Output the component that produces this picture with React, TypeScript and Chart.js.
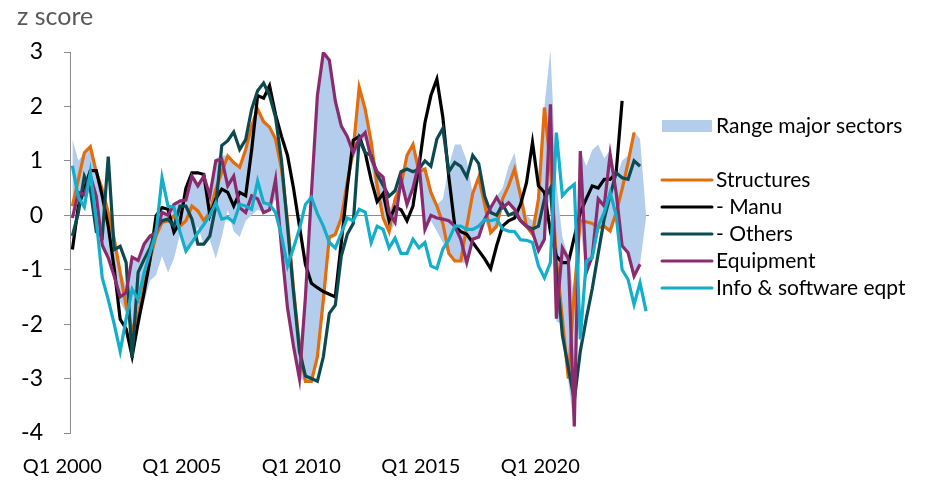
import React, { useEffect, useRef } from 'react';
import { Chart, registerables } from 'chart.js';

Chart.register(...registerables);

// Quarterly categories Q1 2000 .. Q1 2024
const startYear = 2000;
const quarterCount = 97;
const categories: string[] = Array.from({ length: quarterCount }, (_, i) => `Q${(i % 4) + 1} ${startYear + Math.floor(i / 4)}`);
const tickLabels = ['Q1 2000', 'Q1 2005', 'Q1 2010', 'Q1 2015', 'Q1 2020'];

const structures: (number | null)[] = [
  0.17, 0.66, 1.15, 1.26, 0.79, 0.48, 0.05, -0.44, -1.05, -1.67,
  -2.1, -1.85, -1.29, -0.81, -0.38, -0.13, -0.1, -0.01, -0.2, -0.1,
  0.17, 0.08, -0.1, 0.05, 0.48, 0.79, 1.09, 0.97, 0.88, 1.21,
  1.64, 1.95, 1.72, 1.62, 1.4, 0.85, -0.1, -1.35, -2.4, -3.05,
  -3.05, -2.6, -1.55, -0.4, -0.35, -0.05, 0.6, 1.2, 2.35, 1.95,
  1.35, 0.55, -0.05, -0.3, 0.3, 0.55, 1.1, 1.3, 0.8, 0.85,
  0.42, 0.17, -0.15, -0.7, -0.84, -0.84, -0.2, 0.4, 0.7, 0.2,
  -0.32, -0.2, 0.3, 0.54, 0.85, 0.36, -0.2, -0.35, 0.3, 1.98,
  0.9, -0.8, -1.9, -3.0, -1.4, -0.1, -0.12, -0.15, -0.23, -0.2,
  -0.29, 0.05, 0.48, 0.97, 1.52, null, null,
];

const manu: (number | null)[] = [
  -0.63, 0.17, 0.48, 0.82, 0.82, 0.35, -0.2, -0.98, -1.91, -2.09,
  -2.59, -1.98, -1.42, -0.81, -0.01, 0.14, 0.11, -0.31, -0.13, 0.5,
  0.78, 0.78, 0.75, 0.0, 0.3, 0.48, 0.42, 0.17, 0.42, 0.36,
  1.2, 2.2, 2.15, 2.38, 1.85, 1.45, 1.1, 0.5, -0.2, -0.9,
  -1.25, -1.33, -1.4, -1.45, -1.5, -0.5, 0.5, 1.38, 1.45, 1.15,
  0.65, 0.25, 0.4, -0.1, 0.15, 0.1, -0.1, 0.17, 0.9, 1.7,
  2.2, 2.5, 1.8, 0.7, -0.2, -0.3, -0.35, -0.5, -0.65, -0.8,
  -0.98, -0.56, -0.2, -0.1, -0.05, 0.2, 0.6, 1.34, 0.54, 0.42,
  -0.3, -0.75, -0.87, -0.87, -0.4, 0.05, 0.3, 0.54, 0.5, 0.66,
  0.66, 0.78, 2.1, null, null, null, null,
];

const others: (number | null)[] = [
  -0.38, 0.05, 0.72, 0.48, -0.3, -0.4, 1.08, -0.63, -0.57, -0.87,
  -2.62, -1.05, -0.81, -0.6, -0.25, -0.1, -0.07, -0.2, 0.17, 0.17,
  -0.07, -0.53, -0.53, -0.38, 0.17, 1.28, 1.37, 1.53, 1.21, 1.39,
  1.95, 2.29, 2.43, 2.2, 1.8, 1.0, -0.2, -1.4, -2.5, -2.95,
  -3.0, -3.05, -2.6, -1.8, -1.65, -0.75, -0.35, -0.15, 1.4, 1.15,
  1.1, 0.75, 0.55, 0.35, 0.45, 0.8, 0.85, 0.8, 0.85, 1.0,
  0.9, 1.4, 1.6, 0.8, 0.97, 0.9, 0.7, 1.1, 0.95, 0.35,
  0.05, 0.0, 0.2, 0.0, 0.05, -0.1, -0.2, -0.25, -0.2, 0.3,
  0.5, -1.0, -2.2, -2.8, -3.4, -2.5, -1.9, -1.35, -0.7, -0.07,
  0.36, 0.78, 0.69, 0.66, 1.0, 0.9, null,
];

const equipment: (number | null)[] = [
  -0.05, 0.42, 0.38, 0.73, 0.35, -0.55, -0.78, -1.12, -1.5, -1.42,
  -0.77, -0.83, -0.53, -0.38, -0.32, 0.05, 0.0, 0.2, 0.26, 0.28,
  0.72, 0.54, 0.72, 0.36, 1.0, 1.03, 0.54, 0.72, 0.14, 0.05,
  0.36, 0.3, 0.05, 0.1, 0.66, -0.6, -1.7, -2.4, -3.0, -1.5,
  0.4, 2.2, 2.99, 2.85, 2.1, 1.64, 1.45, 1.15, 1.4, 1.52,
  1.04, 0.8, 0.7, 0.05, -0.13, 0.66, 0.2, 0.5, 0.97, -0.26,
  0.0, -0.05, -0.07, -0.1, -0.2, -0.44, -0.87, -0.44, -0.4, -0.07,
  0.14, 0.33, 0.14, 0.23, 0.11, -0.1, -0.2, -0.3, -0.65, -0.44,
  2.04, -1.9, -0.6, -0.8, -3.88, 1.18, -1.05, -0.75, 0.3, 0.17,
  1.12, 0.42, -0.56, -0.69, -1.12, -0.9, null,
];

const infoSoftware: (number | null)[] = [
  0.91, 0.33, 0.15, 0.79, -0.1, -1.15, -1.55, -2.0, -2.5, -1.9,
  -1.36, -1.55, -1.05, -0.69, -0.32, 0.69, 0.17, 0.15, -0.3, -0.66,
  -0.5, -0.32, -0.17, 0.0, 0.23, -0.07, -0.04, -0.13, 0.2, 0.17,
  0.11, 0.63, 0.23, 0.2, 0.05, -0.38, -0.93, -0.6, -0.25, 0.2,
  0.33, 0.03, -0.2, -0.5, -0.6, -0.33, -0.05, -0.1, 0.11, 0.06,
  -0.5, -0.2, -0.26, -0.6, -0.42, -0.7, -0.7, -0.44, -0.6, -0.5,
  -0.93, -0.98, -0.62, -0.45, -0.2, -0.2, -0.26, -0.26, -0.2, -0.08,
  -0.1, -0.07, -0.25, -0.29, -0.3, -0.45, -0.46, -0.5, -0.93, -1.15,
  -0.87, 1.52, 0.36, 0.48, 0.57, -2.28, -0.84, -0.78, -0.2, 0.05,
  0.42, 0.0, -1.0, -1.18, -1.64, -1.24, -1.76,
];

const rangeHigh: number[] = [
  1.4, 1.0, 1.15, 1.26, 0.8, 0.5, 0.1, -0.4, -1.0, -1.3,
  -0.75, -0.8, -0.5, -0.38, -0.3, 0.1, 0.05, 0.2, 0.3, 0.3,
  0.72, 0.55, 0.72, 0.4, 1.05, 1.1, 1.1, 0.97, 0.9, 1.25,
  1.65, 1.95, 1.75, 1.65, 1.4, 0.85, -0.1, -1.3, -2.4, -1.5,
  0.4, 2.2, 2.99, 2.85, 2.1, 1.65, 1.45, 1.2, 2.35, 1.95,
  1.35, 0.8, 0.7, 0.1, 0.3, 0.66, 1.1, 1.3, 0.97, 0.85,
  0.45, 0.2, 0.3, 0.9, 1.3, 1.3, 1.0, 0.4, 0.7, 0.2,
  0.15, 0.35, 0.5, 0.9, 1.15, 0.5, 0.0, -0.1, 0.3, 2.0,
  3.05, 0.6, -0.4, -0.75, -1.5, 1.2, 0.9, 1.2, 1.3, 1.05,
  1.2, 0.7, 1.0, 1.1, 1.55, 1.4, 0.02,
];

const rangeLow: number[] = [
  -0.1, 0.3, 0.2, 0.5, -0.2, -0.6, -0.8, -1.2, -1.6, -1.8,
  -2.2, -2.0, -1.6, -1.2, -1.1, -0.75, -1.05, -0.8, -0.35, -0.7,
  -0.45, -0.2, -0.55, -0.45, -0.8, -0.4, 0.1, -0.3, -0.4, -0.1,
  0.0, 0.1, 0.05, 0.1, 0.3, -0.6, -1.7, -2.4, -3.0, -3.05,
  -3.05, -2.6, -1.6, -0.45, -0.4, -0.1, 0.5, 1.0, 1.3, 1.4,
  0.9, 0.3, -0.1, -0.35, -0.15, 0.5, 0.2, 0.5, 0.6, -0.3,
  -0.1, -0.3, -0.5, -0.75, -0.85, -0.85, -0.9, -0.45, -0.4, -0.1,
  -0.35, -0.25, 0.1, 0.2, 0.1, -0.15, -0.25, -0.4, -0.7, -0.5,
  0.5, -1.95, -2.0, -3.05, -3.95, -0.2, -1.1, -0.8, -0.25, -0.25,
  -0.3, 0.0, -0.6, -0.7, -1.15, -0.9, -0.05,
];

const BAND = '#B5CDEC';
const lineSeries = [
  { label: 'Structures', data: structures, color: '#E46C0A' },
  { label: '- Manu', data: manu, color: '#000000' },
  { label: '- Others', data: others, color: '#0C4A50' },
  { label: 'Equipment', data: equipment, color: '#8B2B6E' },
  { label: 'Info & software eqpt', data: infoSoftware, color: '#12AECA' },
];

const toPoints = (arr: (number | null)[]) => arr.map((v, i) => ({ x: i, y: v }));

const FONT = 'Lato, "Open Sans", sans-serif';
const LABEL_SHIFT = -1.7;

const overlayPlugin = {
  id: 'overlay',
  afterDraw(chart: any) {
    const ctx = chart.ctx as CanvasRenderingContext2D;
    ctx.save();
    ctx.textAlign = 'left';
    ctx.textBaseline = 'middle';
    ctx.fillStyle = '#595959';
    ctx.font = `25px ${FONT}`;
    ctx.fillText('z score', 17, 17);

    ctx.font = `21px ${FONT}`;
    const x0 = 662;
    const x1 = 712;
    const tx = 716;
    ctx.fillStyle = BAND;
    ctx.fillRect(x0, 120, x1 - x0, 12);
    ctx.fillStyle = '#000000';
    ctx.fillText('Range major sectors', tx, 126);
    const ys = [180, 207, 234, 261, 288];
    lineSeries.forEach((s, k) => {
      ctx.strokeStyle = s.color;
      ctx.lineWidth = 3;
      ctx.lineCap = 'round';
      ctx.beginPath();
      ctx.moveTo(x0, ys[k]);
      ctx.lineTo(x1, ys[k]);
      ctx.stroke();
      ctx.fillStyle = '#000000';
      ctx.fillText(s.label, tx, ys[k]);
    });
    ctx.restore();
  },
};

export default function App() {
  const ref = useRef<HTMLCanvasElement | null>(null);
  useEffect(() => {
    if (!ref.current) return;
    const n = lineSeries.length;
    const chart = new Chart(ref.current, {
      type: 'line',
      data: {
        labels: categories,
        datasets: [
          {
            label: 'range-low',
            data: toPoints(rangeLow),
            borderWidth: 0,
            pointRadius: 0,
            fill: false,
            borderColor: 'transparent',
            order: 100,
          },
          {
            label: 'Range major sectors',
            data: toPoints(rangeHigh),
            borderWidth: 0,
            pointRadius: 0,
            fill: '-1',
            backgroundColor: BAND,
            borderColor: 'transparent',
            order: 99,
          },
          ...lineSeries.map((s, k) => ({
            label: s.label,
            data: toPoints(s.data),
            borderColor: s.color,
            backgroundColor: s.color,
            borderWidth: 3.2,
            pointRadius: 0,
            tension: 0,
            fill: false,
            spanGaps: false,
            order: n - k,
          })),
        ],
      } as any,
      options: {
        animation: false,
        responsive: false,
        maintainAspectRatio: false,
        layout: { padding: { top: 52, right: 279, bottom: 0, left: 0 } },
        plugins: {
          legend: { display: false },
          tooltip: { enabled: false },
          title: { display: false },
        },
        scales: {
          x: {
            type: 'linear',
            min: -0.4,
            max: 96.5,
            grid: { display: false, drawTicks: false },
            border: { display: false },
            afterFit: (scale: any) => {
              scale.height = 48;
            },
            afterBuildTicks: (scale: any) => {
              scale.ticks = tickLabels.map((_, k) => ({ value: k * 20 + LABEL_SHIFT }));
            },
            ticks: {
              autoSkip: false,
              maxRotation: 0,
              padding: 22,
              color: '#000000',
              font: { family: FONT, size: 20 },
              callback: (_v: any, idx: number) => tickLabels[idx] ?? '',
            },
          },
          y: {
            min: -4,
            max: 3,
            afterFit: (scale: any) => {
              scale.width = 70;
            },
            grid: {
              color: (c: any) => (c.tick && c.tick.value === 0 ? '#8C8C8C' : 'transparent'),
              tickColor: '#8C8C8C',
              tickLength: 6,
              lineWidth: 1,
            },
            border: { display: true, color: '#8C8C8C', width: 1 },
            ticks: {
              stepSize: 1,
              padding: 21,
              color: '#000000',
              font: { family: FONT, size: 23 },
            },
          },
        },
      } as any,
      plugins: [overlayPlugin],
    });
    return () => chart.destroy();
  }, []);
  return (
    <div style={{ position: 'fixed', left: 0, top: 0, width: 928, height: 481, background: '#ffffff' }}>
      <canvas ref={ref} width={928} height={481} style={{ display: 'block' }} />
    </div>
  );
}
